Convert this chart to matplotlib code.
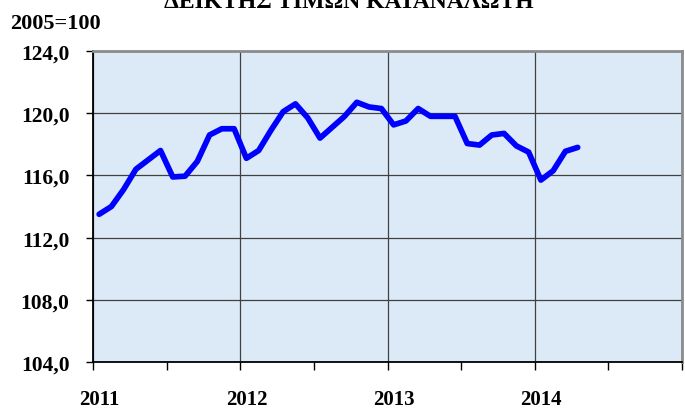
import numpy as np
import matplotlib
matplotlib.use("Agg")
import matplotlib.pyplot as plt

# monthly consumer price index, Jan 2011 - Apr 2014 (2005=100)
cpi_2011 = [113.5, 114.0, 115.1, 116.4, 117.0, 117.6, 115.9, 115.95, 116.9, 118.6, 119.0, 119.0]
cpi_2012 = [117.1, 117.6, 118.9, 120.1, 120.6, 119.7, 118.4, 119.1, 119.8, 120.7, 120.4, 120.3]
cpi_2013 = [119.25, 119.5, 120.3, 119.8, 119.8, 119.8, 118.05, 117.95, 118.6, 118.7, 117.9, 117.5]
cpi_2014 = [115.7, 116.3, 117.55, 117.8]
years = ['2011', '2012', '2013', '2014']
y_ticks = [104, 108, 112, 116, 120, 124]

values = cpi_2011 + cpi_2012 + cpi_2013 + cpi_2014
months = np.arange(len(values))

plt.rcParams['font.family'] = ['Liberation Serif', 'DejaVu Serif']
plt.rcParams['font.weight'] = 'bold'

fig = plt.figure(figsize=(6.85, 4.10), dpi=100)
ax = fig.add_axes([93/685, 1 - 363/410, 589/685, 311/410])
ax.set_facecolor('#dceaf8')

ax.plot(months, values, color='#0000ff', lw=4.1, solid_joinstyle='round',
        solid_capstyle='round', zorder=3)

ax.set_ylim(104, 124)
ax.set_yticks(y_ticks)
ax.set_yticklabels([f'{v:.1f}'.replace('.', ',') for v in y_ticks], fontsize=15.5, fontweight='bold')
ax.tick_params(axis='y', length=5, width=1, pad=12, direction='out')

n_years = len(years)
ax.set_xlim(-0.5, 12 * n_years - 0.5)
ax.set_xticks([12 * k - 0.5 for k in range(n_years + 1)])
ax.set_xticks([12 * k + 5.5 for k in range(n_years)], minor=True)
ax.set_xticklabels([])
ax.tick_params(axis='x', which='both', length=6, width=1, direction='out')

# year labels sit under January, not on the gridlines
sec = ax.secondary_xaxis('bottom')
sec.set_xticks([12 * k for k in range(n_years)])
sec.set_xticklabels(years, fontsize=15, fontweight='bold')
sec.tick_params(length=0, pad=19.5)
sec.spines['bottom'].set_visible(False)

ax.grid(True, which='major', color='#404040', lw=0.9)
ax.set_axisbelow(True)

for side in ['top', 'right']:
    ax.spines[side].set_color('#8c8c8c')
    ax.spines[side].set_linewidth(2)
for side in ['left', 'bottom']:
    ax.spines[side].set_color('black')
    ax.spines[side].set_linewidth(1.3)

fig.text(349/685, 1 - 8/410, 'ΔΕΙΚΤΗΣ ΤΙΜΩΝ ΚΑΤΑΝΑΛΩΤΗ', ha='center', va='baseline',
         fontsize=17, fontweight='bold')
fig.text(10/685, 1 - 24/410, '2005=100', ha='left', va='center', fontsize=16, fontweight='bold')

fig.savefig('out.png', dpi=100)
